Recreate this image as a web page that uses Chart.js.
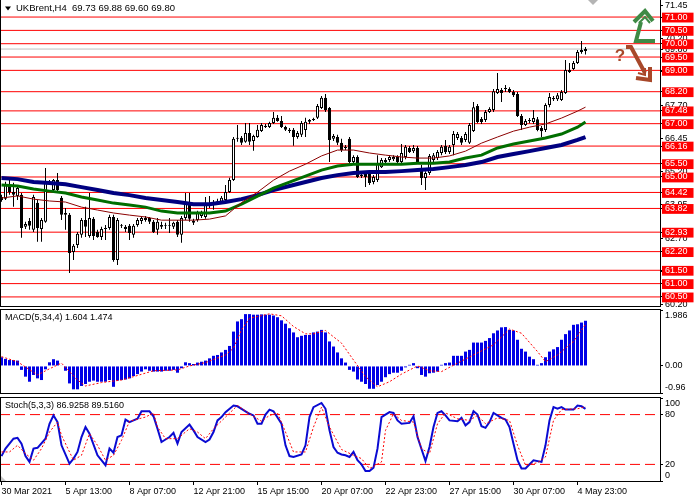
<!DOCTYPE html>
<html>
<head>
<meta charset="utf-8">
<script src="https://cdn.jsdelivr.net/npm/chart.js@4.4.1/dist/chart.umd.min.js"></script>
<style>
  html, body { margin: 0; padding: 0; background: #fff; }
  #wrap { position: relative; width: 700px; height: 500px; overflow: hidden; }
  canvas { position: absolute; left: 0; }
</style>
</head>
<body>
<div id="wrap">
  <canvas id="price" width="700" height="312" style="top:0px"></canvas>
  <canvas id="macd" width="700" height="88" style="top:307px"></canvas>
  <canvas id="stoch" width="700" height="105" style="top:395px"></canvas>
</div>
<script>
'use strict';

const symbol = 'UKBrent';
const timeframe = 'H4';

// H4 candles, oldest first
const barOpen = [
  64.25, 64.18, 64.70, 64.44, 64.29, 64.33, 63.13, 63.35, 63.02, 64.03,
  63.05, 63.32, 64.78, 64.51, 64.89, 64.22, 63.65, 63.58, 62.19, 62.45,
  62.83, 63.39, 62.79, 63.43, 62.94, 62.75, 63.09, 63.09, 63.50, 61.89,
  63.20, 63.13, 63.17, 62.83, 63.20, 63.35, 63.46, 63.46, 63.32, 63.02,
  63.20, 63.17, 63.20, 63.13, 63.32, 62.83, 63.46, 64.03, 63.35, 63.39,
  63.54, 63.50, 63.92, 63.95, 64.07, 64.07, 64.14, 64.44, 64.89, 66.43,
  66.47, 66.32, 66.65, 66.35, 66.50, 66.73, 66.92, 66.88, 67.03, 67.22,
  67.10, 66.88, 66.77, 66.77, 66.50, 66.58, 66.76, 67.07, 67.14, 67.22,
  67.59, 67.97, 67.59, 66.43, 66.50, 66.28, 66.13, 66.43, 65.56, 65.75,
  65.07, 65.15, 65.11, 64.81, 64.89, 65.37, 65.64, 65.64, 65.67, 65.75,
  65.56, 65.75, 66.09, 65.97, 66.09, 65.34, 64.96, 65.15, 65.64, 65.71,
  65.90, 66.16, 65.94, 66.20, 66.46, 66.46, 66.39, 66.28, 66.73, 67.66,
  67.18, 67.14, 67.44, 67.51, 68.15, 68.26, 68.30, 68.30, 68.19, 68.11,
  67.29, 66.95, 67.10, 67.06, 67.17, 66.84, 66.76, 67.70, 67.92, 67.92,
  67.89, 68.15, 68.94, 69.05, 69.28, 69.69, 69.73
];
const barHigh = [
  64.33, 64.82, 64.89, 64.78, 64.67, 64.40, 63.32, 63.46, 64.33, 64.14,
  63.46, 65.34, 64.89, 64.92, 65.15, 64.29, 63.84, 63.65, 62.49, 62.94,
  63.46, 63.88, 64.40, 63.50, 63.02, 63.13, 63.20, 63.58, 63.58, 63.46,
  63.24, 63.20, 63.24, 63.24, 63.46, 63.54, 63.54, 63.50, 63.39, 63.46,
  63.32, 63.28, 63.46, 63.32, 63.39, 63.54, 64.40, 64.40, 63.43, 63.73,
  63.73, 64.25, 64.29, 64.14, 64.18, 64.29, 64.70, 64.97, 66.50, 66.95,
  66.54, 67.03, 67.03, 66.58, 66.95, 67.03, 66.99, 67.07, 67.44, 67.33,
  67.29, 66.92, 66.84, 66.84, 66.73, 67.10, 67.22, 67.18, 67.22, 67.74,
  68.04, 68.11, 67.63, 66.61, 66.58, 66.43, 66.20, 66.50, 65.82, 65.82,
  65.11, 65.19, 65.19, 65.07, 65.82, 65.71, 65.71, 65.82, 65.82, 65.82,
  66.24, 66.20, 66.16, 66.20, 66.16, 65.45, 65.22, 65.86, 65.90, 66.01,
  66.20, 66.39, 66.20, 66.73, 66.69, 66.54, 66.69, 67.03, 67.81, 67.74,
  67.25, 67.51, 67.62, 68.30, 68.90, 68.34, 68.45, 68.37, 68.26, 68.19,
  67.36, 67.18, 67.21, 67.51, 67.25, 66.91, 67.77, 68.15, 68.04, 68.15,
  68.26, 69.39, 69.28, 69.35, 69.76, 70.10, 69.88
];
const barLow = [
  64.07, 64.14, 64.33, 63.88, 64.14, 62.72, 63.05, 63.02, 62.94, 62.57,
  62.57, 63.28, 64.70, 64.44, 64.40, 63.39, 63.02, 61.40, 61.89, 62.34,
  62.72, 62.75, 62.72, 62.64, 62.72, 62.64, 62.64, 63.02, 61.82, 61.70,
  63.09, 62.94, 62.64, 62.72, 63.13, 63.24, 63.32, 63.24, 62.90, 62.83,
  63.05, 63.05, 62.90, 63.05, 62.75, 62.53, 63.39, 63.32, 63.20, 63.32,
  63.46, 63.43, 63.84, 63.77, 64.03, 64.03, 64.10, 64.40, 64.85, 66.32,
  66.20, 66.28, 66.20, 65.98, 66.47, 66.69, 66.84, 66.84, 66.99, 67.07,
  66.84, 66.73, 66.65, 66.17, 66.43, 66.50, 66.50, 66.99, 67.10, 67.18,
  67.55, 67.44, 65.56, 66.35, 66.20, 65.94, 66.01, 65.52, 65.52, 64.96,
  64.96, 64.62, 64.70, 64.73, 64.81, 65.34, 65.52, 65.56, 65.60, 65.52,
  65.52, 65.67, 65.90, 65.90, 65.52, 64.70, 64.51, 65.07, 65.56, 65.64,
  65.82, 65.86, 65.86, 65.82, 66.39, 66.20, 66.31, 66.24, 66.69, 67.02,
  66.99, 67.06, 67.40, 67.44, 68.11, 67.81, 68.19, 68.15, 68.00, 67.25,
  66.76, 66.91, 67.02, 66.99, 66.72, 66.50, 66.69, 67.62, 67.85, 67.85,
  67.85, 68.11, 68.90, 69.01, 69.24, 69.62, 69.60
];
const barClose = [
  64.14, 64.70, 64.44, 64.33, 64.59, 63.09, 63.24, 63.17, 64.25, 63.09,
  63.39, 64.82, 64.82, 64.89, 64.51, 63.58, 63.58, 62.15, 62.42, 62.87,
  63.39, 63.13, 63.46, 62.79, 62.75, 63.05, 63.05, 63.50, 61.89, 63.39,
  63.17, 63.05, 62.90, 63.17, 63.39, 63.46, 63.39, 63.32, 62.94, 63.32,
  63.13, 63.20, 63.17, 63.28, 62.83, 63.46, 64.07, 63.43, 63.28, 63.65,
  63.65, 64.03, 63.99, 64.03, 64.10, 64.22, 64.44, 64.89, 66.43, 66.47,
  66.28, 66.65, 66.32, 66.54, 66.77, 66.95, 66.88, 67.03, 67.22, 67.10,
  66.88, 66.77, 66.73, 66.50, 66.65, 67.03, 67.07, 67.14, 67.18, 67.66,
  67.97, 67.51, 66.39, 66.54, 66.28, 66.01, 66.09, 65.56, 65.75, 65.00,
  65.04, 65.00, 64.77, 65.00, 65.52, 65.64, 65.56, 65.75, 65.75, 65.56,
  65.90, 66.13, 65.94, 66.09, 65.56, 64.96, 65.15, 65.79, 65.82, 65.94,
  66.13, 65.94, 66.13, 66.61, 66.61, 66.28, 66.61, 66.95, 67.62, 67.06,
  67.06, 67.44, 67.55, 68.22, 68.30, 68.15, 68.34, 68.19, 68.07, 67.29,
  66.95, 67.10, 67.14, 67.21, 66.76, 66.72, 67.70, 68.00, 67.96, 68.07,
  68.19, 69.01, 69.01, 69.28, 69.69, 69.76, 69.80
];

// horizontal levels drawn on the chart
const levels = [71.00, 70.50, 70.00, 69.50, 69.00, 68.20, 67.48, 67.00, 66.16,
  65.50, 65.00, 64.42, 63.82, 62.93, 62.20, 61.50, 61.00, 60.50];
const priceTicks = [71.45, 70.20, 68.95, 67.70, 66.45, 65.20, 63.95, 62.70, 61.45, 60.20];

// moving averages, read every 4th bar
const maIdx = [0, 4, 8, 12, 16, 20, 24, 28, 32, 36, 40, 44, 48, 52, 56, 60, 64, 68, 72,
  76, 80, 84, 88, 92, 96, 100, 104, 108, 112, 116, 120, 124, 128, 132, 136, 140, 144, 146];
const maFast = [64.21, 64.29, 64.17, 64.10, 64.06, 63.87, 63.76, 63.65, 63.57, 63.50,
  63.38, 63.38, 63.38, 63.42, 63.54, 64.04, 64.43, 64.88, 65.22, 65.48, 65.79, 66.01,
  66.01, 65.90, 65.82, 65.75, 65.71, 65.71, 65.79, 65.97, 66.27, 66.50, 66.72, 66.87,
  66.99, 67.21, 67.47, 67.62];
const maMid = [64.70, 64.66, 64.55, 64.47, 64.40, 64.25, 64.14, 64.02, 63.95, 63.87,
  63.72, 63.65, 63.65, 63.65, 63.72, 63.98, 64.28, 64.58, 64.81, 65.03, 65.26, 65.41,
  65.48, 65.48, 65.48, 65.48, 65.52, 65.52, 65.56, 65.71, 65.82, 66.09, 66.24, 66.35,
  66.46, 66.61, 66.87, 67.06];
const maSlow = [64.96, 64.92, 64.81, 64.77, 64.73, 64.62, 64.51, 64.40, 64.32, 64.21,
  64.14, 64.06, 63.98, 63.98, 64.06, 64.17, 64.32, 64.51, 64.66, 64.81, 64.96, 65.07,
  65.15, 65.19, 65.19, 65.22, 65.26, 65.30, 65.37, 65.45, 65.56, 65.75, 65.86, 65.97,
  66.09, 66.20, 66.39, 66.50];

// MACD(5,34,4)
const macdHist = [
  0.31, 0.25, 0.21, 0.21, 0.19, -0.14, -0.38, -0.56, -0.32, -0.44,
  -0.50, -0.12, 0.13, 0.24, 0.19, 0.02, -0.17, -0.62, -0.83, -0.83,
  -0.71, -0.64, -0.56, -0.52, -0.56, -0.56, -0.56, -0.50, -0.74, -0.52,
  -0.50, -0.48, -0.44, -0.36, -0.29, -0.20, -0.12, -0.17, -0.20, -0.20,
  -0.20, -0.17, -0.17, -0.14, -0.24, -0.08, 0.13, 0.10, 0.07, 0.12,
  0.15, 0.19, 0.27, 0.36, 0.39, 0.48, 0.57, 0.71, 1.22, 1.58,
  1.66, 1.84, 1.84, 1.82, 1.82, 1.83, 1.82, 1.82, 1.79, 1.73,
  1.62, 1.50, 1.34, 1.19, 1.02, 1.07, 1.10, 1.10, 1.19, 1.22,
  1.28, 1.19, 0.87, 0.69, 0.48, 0.27, 0.12, -0.14, -0.20, -0.48,
  -0.56, -0.64, -0.81, -0.81, -0.68, -0.56, -0.40, -0.29, -0.24, -0.24,
  -0.17, -0.05, 0.04, 0.10, -0.08, -0.32, -0.38, -0.26, -0.24, -0.20,
  0.04, 0.10, 0.12, 0.36, 0.36, 0.36, 0.51, 0.57, 0.83, 0.83,
  0.83, 0.89, 0.99, 1.16, 1.26, 1.37, 1.38, 1.28, 1.26, 0.93,
  0.61, 0.51, 0.33, 0.24, 0.04, 0.10, 0.31, 0.51, 0.59, 0.67,
  0.93, 1.13, 1.26, 1.46, 1.48, 1.54, 1.604
];
const macdSigIdx = [0, 4, 9, 12, 15, 19, 21, 25, 30, 33, 38, 44, 47, 51, 56, 58, 60, 62, 67,
  70, 73, 76, 78, 81, 85, 88, 91, 94, 97, 100, 104, 107, 110, 114, 118, 123, 127, 130,
  134, 136, 139, 143, 146];
const macdSignal = [0.33, 0.15, -0.32, -0.10, 0.10, -0.50, -0.71, -0.59, -0.50, -0.38,
  -0.17, -0.14, 0.00, 0.12, 0.39, 0.63, 1.28, 1.69, 1.85, 1.78, 1.40, 1.14, 1.14, 1.26,
  0.81, 0.21, -0.38, -0.74, -0.56, -0.29, 0.00, -0.17, -0.20, 0.10, 0.39, 0.75, 1.31,
  1.16, 0.51, 0.15, 0.39, 0.87, 1.474];
const macdTicks = [1.986, 0, -0.96];
const macdTickText = ['1.986', '0.00', '-0.96'];

// Stoch(5,3,3)
const stochIdx = [0, 1, 3, 4, 5, 6, 7, 8, 9, 11, 12, 13, 14, 15, 17, 18, 19, 20, 21, 22,
  24, 26, 27, 28, 29, 30, 31, 32, 33, 34, 35, 37, 38, 39, 40, 41, 42, 43, 44, 45,
  47, 48, 49, 51, 52, 53, 54, 55, 56, 58, 59, 61, 62, 63, 64, 65, 66, 67, 68, 70,
  71, 72, 73, 75, 76, 77, 78, 80, 81, 82, 83, 84, 85, 86, 87, 88, 89, 90, 91, 92,
  93, 94, 95, 97, 98, 99, 100, 102, 103, 104, 106, 107, 108, 109, 110, 111, 112, 114, 115, 116,
  117, 118, 119, 120, 121, 122, 123, 125, 126, 127, 128, 129, 130, 131, 133, 135, 136, 137, 138, 139,
  140, 141, 143, 144, 145, 146];
const stochMain = [30, 39, 51, 52, 45, 30, 23, 39, 40, 51, 69, 79, 71, 43, 21, 27, 35, 53, 65, 57,
  31, 19, 39, 34, 53, 55, 74, 71, 73, 75, 84, 84, 78, 63, 47, 50, 53, 58, 45, 59,
  68, 61, 53, 47, 50, 59, 73, 77, 83, 91, 90, 84, 81, 79, 69, 69, 80, 86, 84, 69,
  43, 30, 29, 32, 43, 77, 89, 94, 87, 61, 41, 34, 32, 31, 29, 35, 25, 20, 12, 12,
  16, 39, 77, 83, 82, 73, 69, 70, 78, 53, 24, 41, 65, 82, 84, 79, 73, 72, 76, 67,
  71, 84, 80, 66, 64, 71, 82, 76, 74, 65, 45, 25, 15, 15, 25, 23, 43, 73, 89, 87,
  89, 86, 86, 91, 90, 86.9258];
const stochSigIdx = [0, 2, 4, 6, 8, 10, 12, 14, 15, 18, 20, 22, 24, 26, 28, 30, 32, 36, 38, 39,
  41, 44, 47, 49, 51, 53, 56, 59, 62, 65, 67, 69, 71, 73, 76, 78, 80, 82, 85, 88,
  90, 92, 95, 96, 98, 100, 103, 105, 107, 109, 111, 114, 117, 119, 121, 124, 127, 129, 131, 134,
  136, 138, 140, 144, 146];
const stochSignal = [35, 35, 43, 33, 25, 39, 59, 71, 55, 25, 31, 57, 43, 25, 31, 49, 72, 77, 82, 65,
  51, 51, 63, 59, 51, 63, 77, 91, 81, 72, 79, 82, 59, 35, 35, 65, 89, 65, 38, 31,
  27, 15, 23, 61, 81, 73, 71, 39, 33, 69, 82, 75, 73, 79, 69, 76, 73, 43, 19, 22,
  29, 73, 86, 87, 89.516];
const stochTicks = [100, 80, 20, 0];
const stochLevels = [80, 20];

// time axis
const dateIdx = [0, 16, 32, 48, 64, 80, 96, 112, 128, 144];
const dateLabels = ['30 Mar 2021', '5 Apr 13:00', '8 Apr 07:00', '12 Apr 21:00', '15 Apr 15:00',
  '20 Apr 07:00', '22 Apr 23:00', '27 Apr 15:00', '30 Apr 07:00', '4 May 23:00'];

Chart.defaults.font.family = '"Liberation Sans", Arial, sans-serif';
Chart.defaults.font.size = 9;
Chart.defaults.color = '#000';

const xMin = -0.375;
const xMax = 164.625;
const last = barClose.length - 1;
const font9 = { family: '"Liberation Sans", Arial, sans-serif', size: 9 };

const pts = (xs, ys) => xs.map((x, i) => ({ x: x, y: ys[i] }));
const hline = v => [{ x: xMin, y: v }, { x: xMax, y: v }];
const edgeLabel = (text, i, n) => (i === 0 ? ['', text] : i === n - 1 ? [text, ''] : text);

const base = {
  responsive: false,
  animation: false,
  events: [],
  plugins: { legend: { display: false }, tooltip: { enabled: false } }
};

function xAxis(extra) {
  return Object.assign({ type: 'linear', min: xMin, max: xMax, offset: false, display: false }, extra);
}

function yAxis(min, max, values, ticks) {
  return {
    position: 'right', min: min, max: max,
    afterBuildTicks: s => { s.ticks = values.map(v => ({ value: v })); },
    afterFit: s => { s.width = 40; s.paddingTop = 0; s.paddingBottom = 0; },
    grid: { drawOnChartArea: false, tickLength: 3, color: '#000' },
    border: { display: false },
    ticks: Object.assign({ autoSkip: false, padding: 2, font: font9, color: '#000' }, ticks)
  };
}

const paneFrame = {
  id: 'paneFrame',
  afterDraw(chart) {
    const { ctx, chartArea: a } = chart;
    ctx.save();
    ctx.strokeStyle = '#000';
    ctx.lineWidth = 1;
    ctx.strokeRect(a.left + 0.5, a.top - 0.5, a.right - a.left, a.bottom - a.top + 1);
    ctx.restore();
  }
};

function caption(text, x, dy, size, marker) {
  return {
    id: 'caption',
    afterDraw(chart) {
      const ctx = chart.ctx;
      const y = chart.chartArea.top + dy;
      ctx.save();
      ctx.fillStyle = '#000';
      if (marker) {
        ctx.beginPath();
        ctx.moveTo(5, y - 2); ctx.lineTo(11, y - 2); ctx.lineTo(8, y + 2);
        ctx.closePath();
        ctx.fill();
      }
      ctx.font = size + 'px "Liberation Sans", Arial, sans-serif';
      ctx.textBaseline = 'middle';
      ctx.fillText(text, x, y);
      ctx.restore();
    }
  };
}

// forecast arrows drawn on the right of the price pane
const forecastArrows = {
  id: 'forecastArrows',
  afterDraw(chart) {
    const ctx = chart.ctx;
    ctx.save();
    ctx.fillStyle = '#b4b4b4';
    ctx.beginPath();
    ctx.moveTo(588, 0); ctx.lineTo(598, 0); ctx.lineTo(593, 5);
    ctx.fill();

    ctx.lineCap = 'butt';
    ctx.lineJoin = 'miter';
    ctx.strokeStyle = '#3f8a45';
    ctx.lineWidth = 4;
    ctx.beginPath();
    ctx.moveTo(655, 41); ctx.lineTo(636, 41); ctx.lineTo(641, 22);
    ctx.stroke();
    ctx.beginPath();
    ctx.moveTo(634, 22); ctx.lineTo(645, 11); ctx.lineTo(653, 21);
    ctx.stroke();
    ctx.lineWidth = 2;
    ctx.beginPath();
    ctx.moveTo(639, 23); ctx.lineTo(645, 17); ctx.lineTo(650, 23);
    ctx.stroke();

    ctx.strokeStyle = '#a8482a';
    ctx.fillStyle = '#a8482a';
    ctx.lineWidth = 4;
    ctx.beginPath();
    ctx.moveTo(626, 47); ctx.lineTo(631, 47); ctx.lineTo(645, 73);
    ctx.stroke();
    ctx.beginPath();
    ctx.moveTo(636, 78); ctx.lineTo(650, 80); ctx.lineTo(650, 67);
    ctx.stroke();
    ctx.lineWidth = 2;
    ctx.beginPath();
    ctx.moveTo(638, 73); ctx.lineTo(645, 75); ctx.lineTo(645, 68);
    ctx.stroke();
    ctx.font = 'bold 17px "Liberation Sans", Arial, sans-serif';
    ctx.textAlign = 'center';
    ctx.textBaseline = 'middle';
    ctx.fillText('?', 620, 56);
    ctx.restore();
  }
};

// ---- price pane ----
const idx = barOpen.map((_, i) => i);
const bid = barClose[last];
const priceAxisValues = priceTicks.concat([bid], levels);
const levelPoints = levels.flatMap(v => hline(v).concat([{ x: xMax, y: null }]));
const title = symbol + ',' + timeframe + '  ' + [barOpen[last], barHigh[last], barLow[last], barClose[last]]
  .map(v => v.toFixed(2)).join(' ');

new Chart(document.getElementById('price'), {
  type: 'line',
  data: {
    datasets: [
      { type: 'line', data: levelPoints, borderColor: '#ff0000', borderWidth: 1, pointRadius: 0, order: 10 },
      { type: 'line', data: hline(bid), borderColor: '#c0c0c0', borderWidth: 1, pointRadius: 0, order: 9 },
      {
        type: 'bar', data: idx.map(i => ({ x: i, y: [barLow[i], barHigh[i]] })),
        backgroundColor: '#000', barThickness: 1, maxBarThickness: 1, grouped: false,
        inflateAmount: 0, order: 8
      },
      {
        type: 'bar', data: idx.map(i => ({ x: i, y: [barOpen[i], barClose[i]] })),
        backgroundColor: idx.map(i => (barClose[i] >= barOpen[i] ? '#ffffff' : '#000000')),
        borderColor: '#000', borderWidth: 1, borderSkipped: false,
        barThickness: 3, maxBarThickness: 3, grouped: false, inflateAmount: 0, order: 7
      },
      { type: 'line', data: pts(maIdx, maSlow), borderColor: '#000080', borderWidth: 4, pointRadius: 0, tension: 0, order: 3 },
      { type: 'line', data: pts(maIdx, maMid), borderColor: '#006e00', borderWidth: 3, pointRadius: 0, tension: 0, order: 2 },
      { type: 'line', data: pts(maIdx, maFast), borderColor: '#8b0000', borderWidth: 1, pointRadius: 0, tension: 0, order: 1 }
    ]
  },
  options: Object.assign({}, base, {
    layout: { padding: { top: 0, bottom: 6, left: 0, right: 0 } },
    scales: {
      x: xAxis(),
      y: yAxis(60.16, 71.64, priceAxisValues, {
        callback: v => v.toFixed(2),
        color: c => (c.index > priceTicks.length ? '#ffffff' : '#000000'),
        showLabelBackdrop: c => c.index > priceTicks.length,
        backdropColor: '#ff0000',
        backdropPadding: { left: 3, right: 6, top: -1, bottom: 0 }
      })
    }
  }),
  plugins: [paneFrame, caption(title, 16, 8.5, 9.5, true), forecastArrows]
});

// ---- MACD pane ----
new Chart(document.getElementById('macd'), {
  type: 'line',
  data: {
    datasets: [
      {
        type: 'bar', data: pts(idx, macdHist), backgroundColor: '#0000e6',
        barThickness: 3, maxBarThickness: 3, grouped: false, inflateAmount: 0, order: 2
      },
      {
        type: 'line', data: pts(macdSigIdx, macdSignal), borderColor: '#ff0000', borderWidth: 1,
        borderDash: [2, 2], pointRadius: 0, tension: 0, order: 1
      }
    ]
  },
  options: Object.assign({}, base, {
    layout: { padding: { top: 3, bottom: 2, left: 0, right: 0 } },
    scales: {
      x: xAxis(),
      y: yAxis(macdTicks[2], macdTicks[0], macdTicks, {
        callback: (v, i) => edgeLabel(macdTickText[i], i, macdTicks.length)
      })
    }
  }),
  plugins: [paneFrame, caption('MACD(5,34,4) ' + macdHist[last].toFixed(3) + ' ' +
    macdSignal[macdSignal.length - 1].toFixed(3), 5, 8, 9, false)]
});

// ---- Stochastic pane ----
new Chart(document.getElementById('stoch'), {
  type: 'line',
  data: {
    datasets: stochLevels.map(v => ({
      type: 'line', data: hline(v), borderColor: '#ff0000', borderWidth: 1,
      borderDash: [10, 5], pointRadius: 0, order: 5
    })).concat([
      { type: 'line', data: pts(stochIdx, stochMain), borderColor: '#0a0ad2', borderWidth: 2, pointRadius: 0, tension: 0, order: 2 },
      {
        type: 'line', data: pts(stochSigIdx, stochSignal), borderColor: '#ff0000', borderWidth: 1,
        borderDash: [2, 2], pointRadius: 0, tension: 0, order: 1
      }
    ])
  },
  options: Object.assign({}, base, {
    layout: { padding: { top: 3, bottom: 0, left: 0, right: 0 } },
    scales: {
      x: xAxis({
        display: true,
        afterBuildTicks: s => { s.ticks = dateIdx.map(v => ({ value: v })); },
        afterFit: s => { s.height = 19; s.paddingLeft = 0; s.paddingRight = 0; },
        grid: { drawOnChartArea: false, tickLength: 4, color: '#000', offset: false },
        border: { display: false },
        ticks: {
          autoSkip: false, maxRotation: 0, minRotation: 0, align: 'start', padding: 1,
          font: font9, color: '#000', callback: (v, i) => dateLabels[i]
        }
      }),
      y: yAxis(0, 100, stochTicks, {
        callback: (v, i) => edgeLabel(String(v), i, stochTicks.length)
      })
    }
  }),
  plugins: [paneFrame, caption('Stoch(5,3,3) ' + stochMain[stochMain.length - 1].toFixed(4) + ' ' +
    stochSignal[stochSignal.length - 1].toFixed(4), 5, 8, 9, false), {
    id: 'cornerMark',
    afterDraw(chart) {
      const ctx = chart.ctx, a = chart.chartArea;
      ctx.save();
      ctx.fillStyle = '#c8c8c8';
      ctx.beginPath();
      ctx.moveTo(1, a.bottom - 5); ctx.lineTo(1, a.bottom); ctx.lineTo(6, a.bottom);
      ctx.fill();
      ctx.restore();
    }
  }]
});
</script>
</body>
</html>
